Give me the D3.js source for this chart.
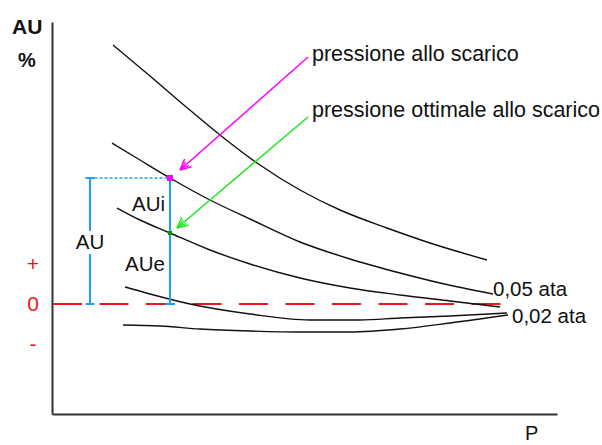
<!DOCTYPE html>
<html>
<head>
<meta charset="utf-8">
<script src="https://cdn.jsdelivr.net/npm/d3@7"></script>
<style>
  html, body { margin: 0; padding: 0; background: #fff; }
  svg { display: block; }
  text { font-family: "Liberation Sans", Arial, sans-serif; }
</style>
</head>
<body>
<script>
// ---- data (P = pressure, AU = % units) ----
const curveNames = ["c1", "c2", "c3", "c4", "c5"];
const c1P  = [6.1, 9.8, 13.3, 16.8, 20.5, 24.8, 28.8, 33.5, 37.8, 43.5];
const c1AU = [25.9, 22.8, 19.8, 16.9, 14.1, 11.4, 9.4, 7.6, 6.1, 4.4];
const c2P  = [6.0, 8.8, 11.8, 15.8, 19.8, 24.8, 29.8, 34.8, 38.8, 44.1];
const c2AU = [16.1, 14.4, 12.6, 10.4, 8.5, 6.2, 4.5, 3.1, 2.1, 1.0];
const c3P  = [6.5, 8.8, 11.8, 15.8, 19.8, 24.8, 29.8, 34.8, 39.8, 44.8];
const c3AU = [9.6, 8.4, 7.1, 5.4, 4.0, 2.6, 1.6, 0.9, 0.3, -0.3];
const c4P  = [7.3, 9.8, 13.8, 19.8, 25.8, 30.8, 34.8, 39.8, 45.5];
const c4AU = [1.7, 1.0, 0.0, -1.0, -1.6, -1.6, -1.4, -1.2, -0.9];
const c5P  = [7.1, 10.8, 14.8, 19.8, 24.8, 29.8, 34.8, 39.8, 45.6];
const c5AU = [-2.1, -2.2, -2.5, -2.7, -2.8, -2.8, -2.5, -1.9, -1.1];

const yTickValues = [4, 0, -4];
const yTickLabels = ["+", "0", "-"];

const curveLabels = ["0,05 ata", "0,02 ata"];
const curveLabelAt = [[44.1, 0.8], [46.0, -1.9]];

// operating point (scarico) and optimal point
const pScarico = 11.8;
const auTotal = 12.6;
const auOptimal = 7.1;
const pBracket = 3.8;

const annotTexts = ["pressione allo scarico", "pressione ottimale allo scarico"];
const annotFrom = [[25.6, 24.7], [25.6, 18.7]];
const annotTo   = [[12.8, 13.4], [12.5, 7.6]];
const annotColors = ["#ff00ff", "#1ee81e"];

// ---- layout ----
const W = 602, H = 445;
const x = d3.scaleLinear().domain([0, 50.5]).range([52, 557]);
const y = d3.scaleLinear().domain([-11, 28.2]).range([414, 22]);

const svg = d3.select("body").append("svg").attr("width", W).attr("height", H);

// axes (lines only)
svg.append("g").attr("transform", `translate(${x(0)},0)`)
  .call(d3.axisLeft(y).ticks(0).tickSizeOuter(0))
  .call(g => g.select(".domain").attr("stroke", "#333").attr("stroke-width", 2));
svg.append("g").attr("transform", `translate(0,${y(-11)})`)
  .call(d3.axisBottom(x).ticks(0).tickSizeOuter(0))
  .call(g => g.select(".domain").attr("stroke", "#333").attr("stroke-width", 2));

// y tick labels (red)
svg.selectAll("text.ytick").data(yTickValues).enter().append("text")
  .attr("class", "ytick")
  .attr("x", 33).attr("y", d => y(d))
  .attr("dy", "0.35em")
  .attr("text-anchor", "middle")
  .attr("fill", "#f0151b")
  .attr("font-size", 21)
  .text((d, i) => yTickLabels[i]);

// zero dashed line
svg.append("line")
  .attr("x1", x(0) + 1).attr("x2", x(44.9))
  .attr("y1", y(0)).attr("y2", y(0))
  .attr("stroke", "#f0151b").attr("stroke-width", 2)
  .attr("stroke-dasharray", "29,17.5");

// curves
const curves = [[c1P, c1AU], [c2P, c2AU], [c3P, c3AU], [c4P, c4AU], [c5P, c5AU]];
const line = d3.line().x(d => x(d[0])).y(d => y(d[1])).curve(d3.curveMonotoneX);
svg.selectAll("path.curve").data(curves).enter().append("path")
  .attr("class", "curve")
  .attr("d", d => line(d[0].map((p, i) => [p, d[1][i]])))
  .attr("fill", "none").attr("stroke", "#111").attr("stroke-width", 1.4);

// curve labels
svg.selectAll("text.clabel").data(curveLabels).enter().append("text")
  .attr("class", "clabel")
  .attr("x", (d, i) => x(curveLabelAt[i][0]))
  .attr("y", (d, i) => y(curveLabelAt[i][1]))
  .attr("fill", "#111").attr("font-size", 20.5)
  .text(d => d);

// blue AU bracket
const blue = "#1f9ef5";
const bx = x(pBracket), sx = x(pScarico);
const yTop = y(auTotal), y0 = y(0);
svg.append("line").attr("x1", bx).attr("x2", bx).attr("y1", yTop).attr("y2", 231)
  .attr("stroke", blue).attr("stroke-width", 2);
svg.append("line").attr("x1", bx).attr("x2", bx).attr("y1", 254).attr("y2", y0)
  .attr("stroke", blue).attr("stroke-width", 2);
[yTop, y0].forEach(yy => svg.append("line")
  .attr("x1", bx - 4.5).attr("x2", bx + 4.5).attr("y1", yy).attr("y2", yy)
  .attr("stroke", blue).attr("stroke-width", 2));
svg.append("line").attr("x1", bx + 4.5).attr("x2", sx).attr("y1", yTop).attr("y2", yTop)
  .attr("stroke", blue).attr("stroke-width", 1.5).attr("stroke-dasharray", "3,2");
svg.append("line").attr("x1", sx).attr("x2", sx).attr("y1", yTop).attr("y2", y0)
  .attr("stroke", blue).attr("stroke-width", 2);
svg.append("line").attr("x1", sx - 5).attr("x2", sx + 5).attr("y1", y0).attr("y2", y0)
  .attr("stroke", blue).attr("stroke-width", 2);

// points
svg.append("rect").attr("x", sx - 3).attr("y", yTop - 3).attr("width", 6).attr("height", 6)
  .attr("fill", "#ff00ff");
svg.append("rect").attr("x", sx - 2).attr("y", y(auOptimal) - 2).attr("width", 4).attr("height", 4)
  .attr("fill", "#009a00");

// AU texts
svg.append("text").attr("x", bx).attr("y", 249).attr("text-anchor", "middle")
  .attr("font-size", 20.5).attr("fill", "#111").text("AU");
svg.append("text").attr("x", 132).attr("y", 211)
  .attr("font-size", 20.5).attr("fill", "#111").text("AUi");
svg.append("text").attr("x", 125).attr("y", 271)
  .attr("font-size", 20.5).attr("fill", "#111").text("AUe");

// annotation arrows
annotTexts.forEach((t, i) => {
  const x1 = x(annotFrom[i][0]), y1 = y(annotFrom[i][1]);
  const x2 = x(annotTo[i][0]), y2 = y(annotTo[i][1]);
  const c = annotColors[i];
  svg.append("line").attr("x1", x1).attr("y1", y1).attr("x2", x2).attr("y2", y2)
    .attr("stroke", c).attr("stroke-width", 1.5);
  const ang = Math.atan2(y1 - y2, x1 - x2);
  const L = 12, spread = 0.45;
  [-spread, spread].forEach(s => {
    svg.append("line").attr("x1", x2).attr("y1", y2)
      .attr("x2", x2 + L * Math.cos(ang + s)).attr("y2", y2 + L * Math.sin(ang + s))
      .attr("stroke", c).attr("stroke-width", 1.5);
  });
  [-0.25, 0.25].forEach(s => {
    svg.append("line").attr("x1", x2 + 2 * Math.cos(ang)).attr("y1", y2 + 2 * Math.sin(ang))
      .attr("x2", x2 + 10 * Math.cos(ang + s)).attr("y2", y2 + 10 * Math.sin(ang + s))
      .attr("stroke", c).attr("stroke-width", 1.2);
  });
  svg.append("text").attr("x", x1 + 4).attr("y", i === 0 ? 61 : 117)
    .attr("font-size", 21.5).attr("fill", "#111").text(t);
});

// axis titles
svg.append("text").attr("x", 12).attr("y", 34).attr("font-size", 21)
  .attr("font-weight", "bold").attr("fill", "#111").text("AU");
svg.append("text").attr("x", 18).attr("y", 67).attr("font-size", 20)
  .attr("font-weight", "bold").attr("fill", "#111").text("%");
svg.append("text").attr("x", 525).attr("y", 440).attr("font-size", 20)
  .attr("fill", "#111").text("P");
</script>
</body>
</html>
